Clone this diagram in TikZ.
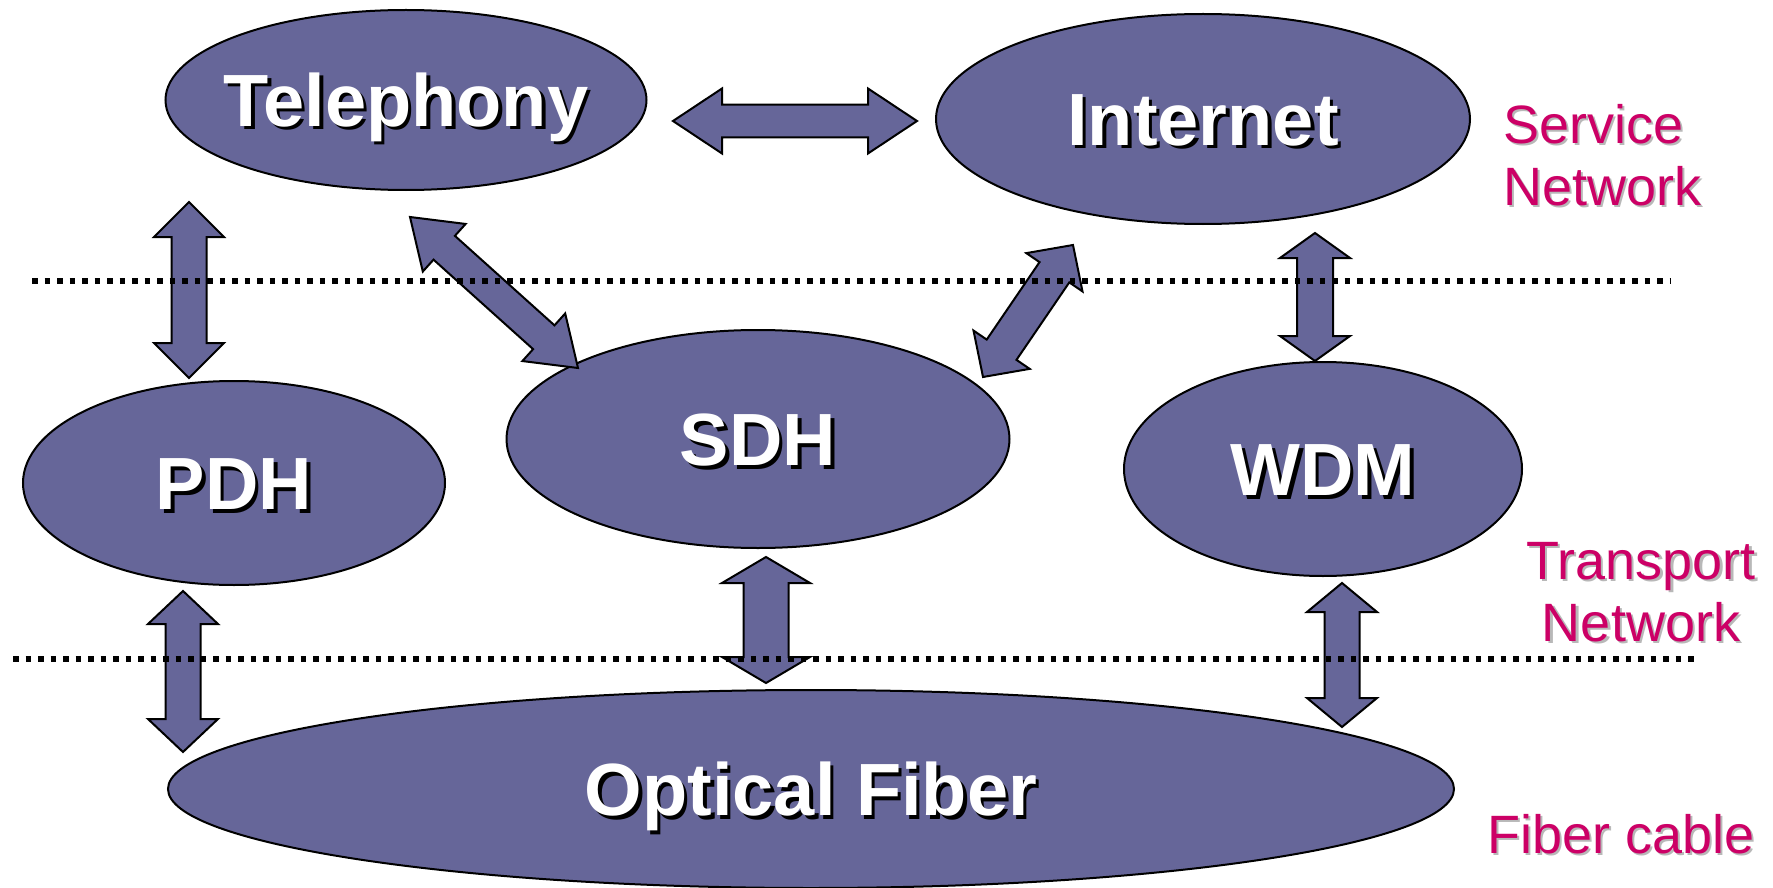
\documentclass[tikz,border=0pt]{standalone}
\usepackage{fontspec}
\setmainfont{Liberation Sans}
\usetikzlibrary{shapes.geometric,calc}
\definecolor{ellfill}{HTML}{666699}
\definecolor{lblcol}{HTML}{CC0066}
\definecolor{lblshadow}{HTML}{B8B8B8}
\newcommand\shtxt[1]{\leavevmode\rlap{\kern3.5pt\raisebox{-3.5pt}{\color{black}#1}}#1}
\newcommand\lshtxt[1]{\leavevmode\rlap{\kern2.5pt\raisebox{-2.5pt}{\color{lblshadow}#1}}#1}
% #1 from, #2 to, #3 shaft half width, #4 head half width, #5 head length (pt)
\newcommand\dblarr[5]{%
  \path[blockarr] let \p1=(#1), \p2=(#2),
    \n1={atan2(\y2-\y1,\x2-\x1)}, \n2={veclen(\x2-\x1,\y2-\y1)} in
    [shift={(\p1)}, rotate=\n1]
    (0pt,0pt) -- (#5pt,#4pt) -- (#5pt,#3pt) -- (\n2-#5pt,#3pt) -- (\n2-#5pt,#4pt)
    -- (\n2,0pt) -- (\n2-#5pt,-#4pt) -- (\n2-#5pt,-#3pt) -- (#5pt,-#3pt)
    -- (#5pt,-#4pt) -- cycle;}
\begin{document}
\begin{tikzpicture}[x=1pt,y=-1pt,
  ell/.style={ellipse, draw=black, line width=2pt, fill=ellfill, inner sep=0pt},
  elltext/.style={text=white, font=\fontsize{74}{80}\selectfont\bfseries,
    inner sep=0pt, text height=53pt, text depth=0pt},
  blockarr/.style={fill=ellfill, draw=black, line width=2pt, line join=miter},
  dotline/.style={line width=5.5pt, dash pattern=on 5.5pt off 7pt},
  lbl/.style={text=lblcol, font=\fontsize{54}{62}\selectfont, inner sep=0pt}]
\useasboundingbox (0,0) rectangle (1773,888);

% ellipses
\node[ell, minimum width=481pt, minimum height=180pt,
  label={[elltext]center:\shtxt{Telephony}}] (tel) at (406,100) {};
\node[ell, minimum width=534pt, minimum height=210pt,
  label={[elltext]center:\shtxt{Internet}}] (int) at (1203,119) {};
\node[ell, minimum width=422pt, minimum height=204pt,
  label={[elltext]center:\shtxt{PDH}}] (pdh) at (234,483) {};
\node[ell, minimum width=503pt, minimum height=218pt,
  label={[elltext]center:\shtxt{SDH}}] (sdh) at (758,439) {};
\node[ell, minimum width=398pt, minimum height=214pt,
  label={[elltext]center:\shtxt{WDM}}] (wdm) at (1323,469) {};
\node[ell, minimum width=1286pt, minimum height=198pt,
  label={[elltext]center:\shtxt{Optical Fiber}}] (fib) at (811,789) {};

% arrow end points
\coordinate (telR) at (673,121);   \coordinate (intL) at (917,121);
\coordinate (telB) at (189,202);   \coordinate (pdhT) at (189,378);
\coordinate (telD) at (410,217);   \coordinate (sdhTL) at (578,368);
\coordinate (intD) at (1073,245);  \coordinate (sdhTR) at (983,377);
\coordinate (intB) at (1315,233);  \coordinate (wdmT) at (1315,361);
\coordinate (pdhB) at (183,591);   \coordinate (fibL) at (183,752);
\coordinate (sdhB) at (766,557);   \coordinate (fibC) at (766,683);
\coordinate (wdmB) at (1342,583);  \coordinate (fibR) at (1342,727);

\dblarr{telR}{intL}{16.3}{32.5}{49}
\dblarr{telB}{pdhT}{17.5}{35}{35}
\dblarr{telD}{sdhTL}{16}{32}{46}
\dblarr{intD}{sdhTR}{18}{34}{33}
\dblarr{intB}{wdmT}{18}{35}{25}
\dblarr{pdhB}{fibL}{17.5}{35}{33}
\dblarr{sdhB}{fibC}{22.5}{44}{26}
\dblarr{wdmB}{fibR}{17.5}{35}{29}

% layer separators
\draw[dotline] (32,281) -- (1671,281);
\draw[dotline] (13,659) -- (1695,659);

% layer labels (base anchor = last line)
\node[lbl, anchor=base west, align=left] (svc) at (1503,205)
  {\lshtxt{Service}\\\lshtxt{Network}};
\node[lbl, anchor=base, align=center] (trn) at (1641,641)
  {\lshtxt{Transport}\\\lshtxt{Network}};
\node[lbl, anchor=base west] (fcb) at (1487,853) {\lshtxt{Fiber cable}};
\end{tikzpicture}
\end{document}
